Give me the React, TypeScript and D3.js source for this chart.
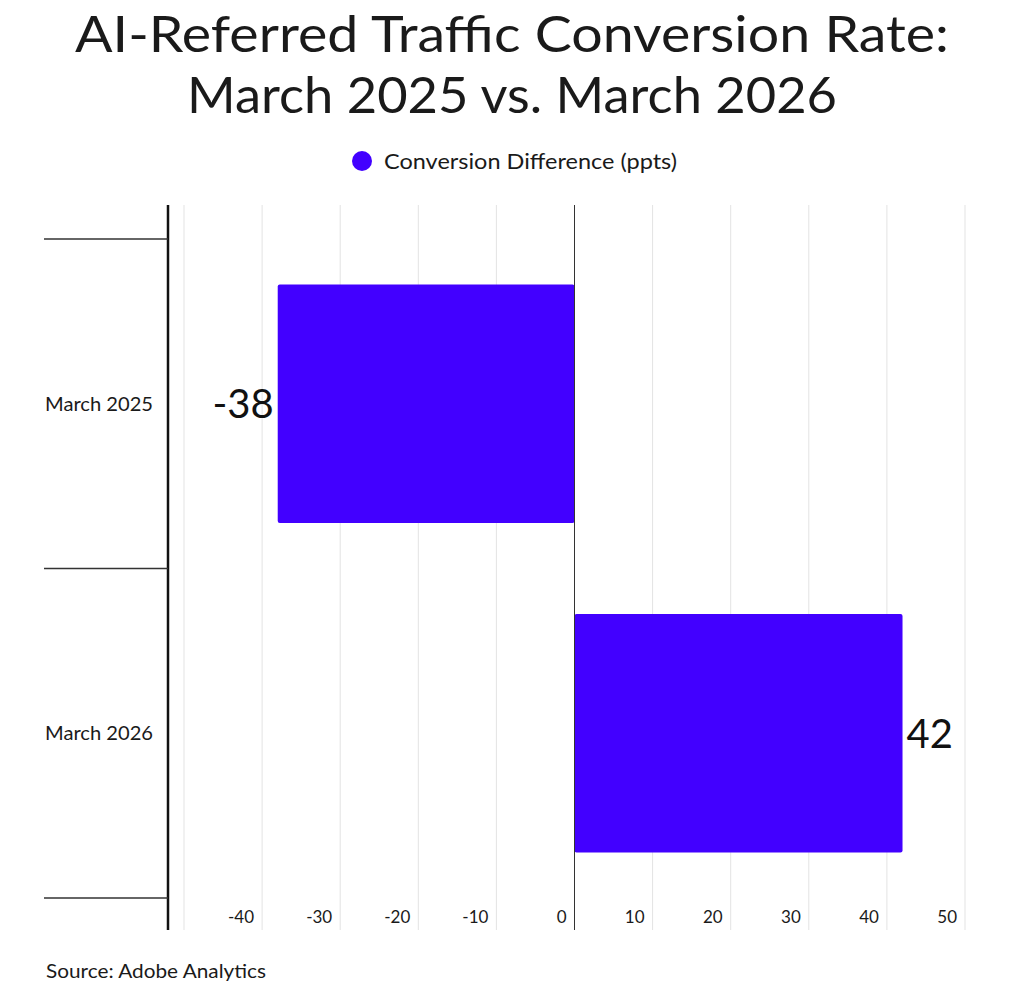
import { useEffect, useRef } from 'react';
import * as d3 from 'd3';

const categories = ['March 2025', 'March 2026'];
const values = [-38, 42];
const xTicks = [-40, -30, -20, -10, 0, 10, 20, 30, 40, 50];
const gridValues = [-50, -40, -30, -20, -10, 0, 10, 20, 30, 40, 50];
const seriesName = 'Conversion Difference (ppts)';
const titleLines = ['AI-Referred Traffic Conversion Rate:', 'March 2025 vs. March 2026'];
const titleWidths = [874, 650];
const sourceText = 'Source: Adobe Analytics';

const FONT = 'Lato, "Noto Sans", sans-serif';
const BAR_COLOR = '#4200ff';

const App = () => {
  const svgRef = useRef<SVGSVGElement>(null);

  useEffect(() => {
    const width = 1024;
    const height = 1007;
    const svg = d3.select(svgRef.current);
    svg.selectAll('*').remove();
    svg.attr('width', width).attr('height', height);

    // plot area
    const plotTop = 205;
    const plotBottom = 930;
    const axisX = 168;

    const x = d3.scaleLinear().domain([-50, 50]).range([184, 965]);
    const y = d3
      .scaleBand()
      .domain(categories)
      .range([239, 898])
      .paddingInner(0.276)
      .paddingOuter(0.138);

    // Title
    svg
      .append('g')
      .selectAll('text')
      .data(titleLines)
      .join('text')
      .attr('x', width / 2)
      .attr('y', (d, i) => 52 + i * 61)
      .attr('text-anchor', 'middle')
      .attr('font-family', FONT)
      .attr('font-size', 50)
      .attr('textLength', (d, i) => titleWidths[i])
      .attr('lengthAdjust', 'spacingAndGlyphs')
      .attr('fill', '#1a1a1a')
      .text((d) => d);

    // Legend
    const legend = svg.append('g');
    legend.append('circle').attr('cx', 362).attr('cy', 161).attr('r', 10).attr('fill', BAR_COLOR);
    legend
      .append('text')
      .attr('x', 384)
      .attr('y', 169)
      .attr('font-family', FONT)
      .attr('font-size', 22)
      .attr('textLength', 293)
      .attr('lengthAdjust', 'spacingAndGlyphs')
      .attr('fill', '#1a1a1a')
      .text(seriesName);

    // Gridlines
    svg
      .append('g')
      .selectAll('line')
      .data(gridValues.filter((v) => v !== 0))
      .join('line')
      .attr('x1', (d) => x(d))
      .attr('x2', (d) => x(d))
      .attr('y1', plotTop)
      .attr('y2', plotBottom)
      .attr('stroke', '#e3e3e3')
      .attr('stroke-width', 1);

    // Bars
    const step = y.step();
    svg
      .append('g')
      .selectAll('rect')
      .data(values)
      .join('rect')
      .attr('x', (d) => x(Math.min(0, d)))
      .attr('width', (d) => Math.abs(x(d) - x(0)))
      .attr('y', (d, i) => y(categories[i]) as number)
      .attr('height', y.bandwidth())
      .attr('rx', 2)
      .attr('fill', BAR_COLOR);

    // Zero line
    svg
      .append('line')
      .attr('x1', x(0))
      .attr('x2', x(0))
      .attr('y1', plotTop)
      .attr('y2', plotBottom)
      .attr('stroke', '#333')
      .attr('stroke-width', 1);

    // Value labels
    svg
      .append('g')
      .selectAll('text')
      .data(values)
      .join('text')
      .attr('x', (d) => (d < 0 ? x(d) - 4 : x(d) + 4))
      .attr('y', (d, i) => (y(categories[i]) as number) + y.bandwidth() / 2)
      .attr('dy', '0.36em')
      .attr('text-anchor', (d) => (d < 0 ? 'end' : 'start'))
      .attr('font-family', FONT)
      .attr('font-size', 40)
      .attr('fill', '#111')
      .text((d) => d);

    // Left axis line
    svg
      .append('line')
      .attr('x1', axisX)
      .attr('x2', axisX)
      .attr('y1', plotTop)
      .attr('y2', plotBottom)
      .attr('stroke', '#111')
      .attr('stroke-width', 2.5);

    // Category boundary ticks
    const gap = (step - y.bandwidth()) / 2;
    const boundaries = [
      ...categories.map((c) => (y(c) as number) - gap),
      (y(categories[categories.length - 1]) as number) + y.bandwidth() + gap,
    ];
    svg
      .append('g')
      .selectAll('line')
      .data(boundaries)
      .join('line')
      .attr('x1', 44)
      .attr('x2', axisX)
      .attr('y1', (d) => d)
      .attr('y2', (d) => d)
      .attr('stroke', '#333')
      .attr('stroke-width', 1.5);

    // Category labels
    svg
      .append('g')
      .selectAll('text')
      .data(categories)
      .join('text')
      .attr('x', 153)
      .attr('y', (d) => (y(d) as number) + y.bandwidth() / 2)
      .attr('dy', '0.36em')
      .attr('text-anchor', 'end')
      .attr('font-family', FONT)
      .attr('font-size', 19)
      .attr('textLength', 108)
      .attr('lengthAdjust', 'spacingAndGlyphs')
      .attr('fill', '#1a1a1a')
      .text((d) => d);

    // X tick labels
    svg
      .append('g')
      .selectAll('text')
      .data(xTicks)
      .join('text')
      .attr('x', (d) => x(d) - 8)
      .attr('y', 923)
      .attr('text-anchor', 'end')
      .attr('font-family', FONT)
      .attr('font-size', 17)
      .attr('fill', '#1a1a1a')
      .text((d) => d);

    // Source
    svg
      .append('text')
      .attr('x', 46)
      .attr('y', 978)
      .attr('font-family', FONT)
      .attr('font-size', 20)
      .attr('textLength', 220)
      .attr('lengthAdjust', 'spacingAndGlyphs')
      .attr('fill', '#1a1a1a')
      .text(sourceText);
  }, []);

  return (
    <div style={{ position: 'absolute', left: 0, top: 0, background: '#fff' }}>
      <svg ref={svgRef} style={{ display: 'block' }}></svg>
    </div>
  );
};

export default App;
